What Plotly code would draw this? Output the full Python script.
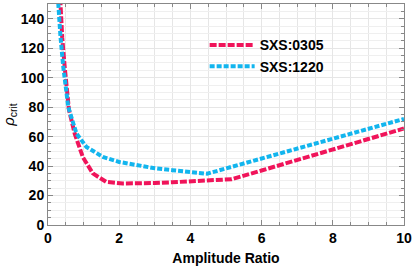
import plotly.graph_objects as go

x_0305 = [0.33, 0.35, 0.40, 0.47, 0.59, 0.75, 0.98, 1.26, 1.63, 2.1, 2.56, 3.0, 3.49, 4.0, 4.42, 5.16, 6.0, 7.0, 8.0, 9.0, 10.0]
y_0305 = [160, 150, 127, 107, 78, 62, 46, 35, 29.3, 28.2, 28.2, 28.5, 29, 29.7, 30.4, 31.1, 37, 44.2, 51.3, 58.4, 65.5]

x_1220 = [0.27, 0.29, 0.35, 0.43, 0.57, 0.8, 1.08, 1.54, 2.0, 2.56, 3.0, 3.49, 4.0, 4.47, 5.0, 6.0, 7.0, 8.0, 9.0, 10.0]
y_1220 = [165, 150, 128, 107, 80, 62, 53, 46.2, 42.8, 40.1, 38.5, 37.2, 36.2, 34.8, 38.4, 45.2, 52, 58.8, 65.6, 72]

series_names = ["SXS:0305", "SXS:1220"]
x_ticks = [0, 2, 4, 6, 8, 10]
y_ticks = [0, 20, 40, 60, 80, 100, 120, 140]

FONT = "Arial, Liberation Sans, sans-serif"

fig = go.Figure()
fig.add_trace(go.Scatter(x=x_0305, y=y_0305, mode="lines", name=series_names[0],
                         line=dict(color="#F0145A", width=4, dash="7px,2px")))
fig.add_trace(go.Scatter(x=x_1220, y=y_1220, mode="lines", name=series_names[1],
                         line=dict(color="#12B5EE", width=4, dash="5px,2px")))

axis_common = dict(
    showline=True, linecolor="#888888", linewidth=1, mirror="ticks",
    ticks="inside", ticklen=5, tickcolor="#888888",
    showgrid=True, gridcolor="#E6E6E6", gridwidth=1, zeroline=False,
    tickfont=dict(family=FONT, size=14, color="black", weight="bold"),
)

fig.update_xaxes(range=[0, 10], tickvals=x_ticks,
                 minor=dict(dtick=0.5, showgrid=True, gridcolor="#E6E6E6", ticks="inside", ticklen=3, tickcolor="#888888"),
                 title=dict(text="<b>Amplitude Ratio</b>", font=dict(family=FONT, size=14, color="black"), standoff=8),
                 **axis_common)
fig.update_yaxes(range=[0, 150], tickvals=y_ticks,
                 minor=dict(dtick=5, showgrid=True, gridcolor="#EFEFEF", ticks="inside", ticklen=3, tickcolor="#888888"),
                 title=dict(text="<i>ρ</i><sub>crit</sub>", font=dict(family=FONT, size=15, color="black"), standoff=6),
                 **axis_common)

fig.update_layout(
    width=415, height=267,
    margin=dict(l=48, r=8, t=3, b=42),
    plot_bgcolor="white", paper_bgcolor="white",
    legend=dict(x=0.44, y=0.885, xanchor="left", yanchor="top", bgcolor="rgba(0,0,0,0)",
                font=dict(family=FONT, size=14, color="black", weight="bold"),
                itemwidth=45, tracegroupgap=0),
    showlegend=True,
)

fig.write_html("out.html", config={"displayModeBar": False},
               post_script="document.body.style.margin='0';document.body.style.padding='0';")
